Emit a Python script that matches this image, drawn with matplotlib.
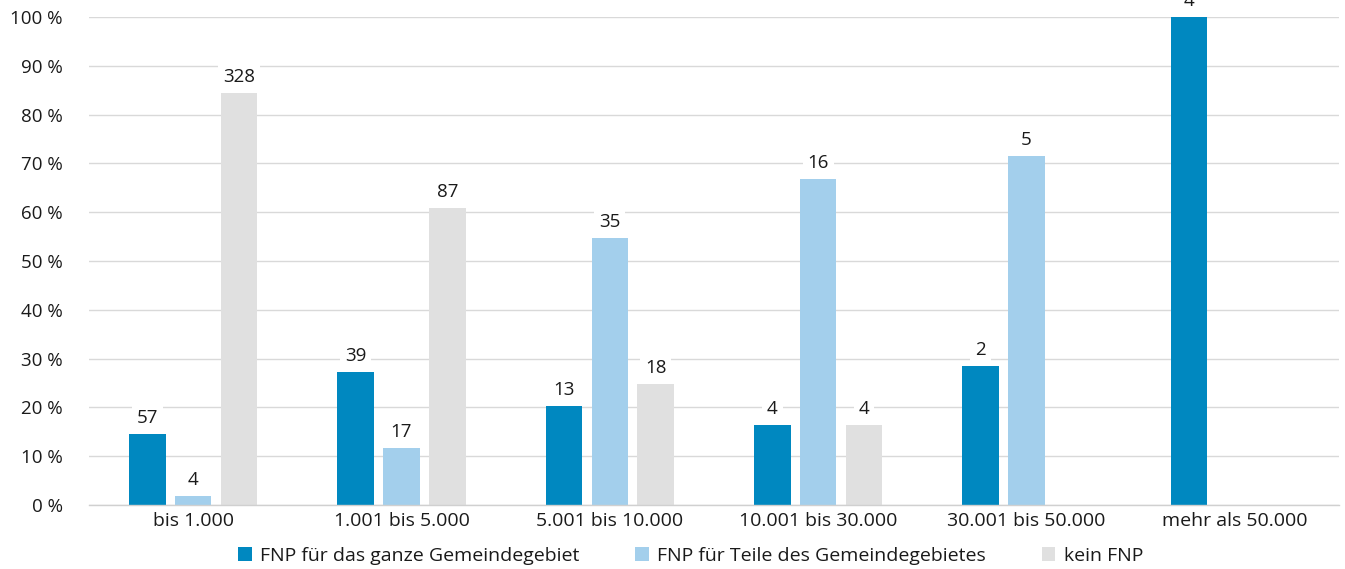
import matplotlib
matplotlib.use("Agg")
import matplotlib.pyplot as plt
import numpy as np

plt.rcParams['font.family'] = ['Open Sans', 'DejaVu Sans']

categories = ["bis 1.000", "1.001 bis 5.000", "5.001 bis 10.000",
              "10.001 bis 30.000", "30.001 bis 50.000", "mehr als 50.000"]
series_names = ["FNP für das ganze Gemeindegebiet",
                "FNP für Teile des Gemeindegebietes", "kein FNP"]
# percentages (bar heights)
pct_ganz = [14.5, 27.3, 20.3, 16.4, 28.5, 100.0]
pct_teile = [1.8, 11.7, 54.7, 66.8, 71.5, None]
pct_kein = [84.4, 60.9, 24.8, 16.4, None, None]
# counts (labels)
n_ganz = [57, 39, 13, 4, 2, 4]
n_teile = [4, 17, 35, 16, 5, None]
n_kein = [328, 87, 18, 4, None, None]

colors = ["#0088c0", "#a3cfec", "#e0e0e0"]

fig = plt.figure(figsize=(13.45, 5.69), dpi=100)
ax = fig.add_axes([89/1345, 1-505/569, 1250/1345, 488/569])

x = np.arange(len(categories))
offsets = [-0.22, 0.0, 0.22]
width = 0.175
for s, (vals, counts) in enumerate([(pct_ganz, n_ganz), (pct_teile, n_teile), (pct_kein, n_kein)]):
    for i, (v, c) in enumerate(zip(vals, counts)):
        if v is None:
            continue
        xi = x[i] + offsets[s]
        ax.bar(xi, v, width=width, color=colors[s], zorder=3,
               label=series_names[s] if i == 0 else None)
        ax.text(xi, v + 1.4, str(c), ha='center', va='bottom', fontsize=13.5,
                color='#1a1a1a', zorder=4,
                bbox=dict(facecolor='white', edgecolor='none', pad=3.5))

ax.set_xlim(-0.5, len(categories) - 0.5)
ax.set_ylim(0, 100)
ax.set_yticks(np.arange(0, 101, 10))
ax.set_yticklabels([f"{v} %" for v in range(0, 101, 10)], fontsize=13.5, color='#1a1a1a')
ax.set_xticks(x)
ax.set_xticklabels(categories, fontsize=14, color='#1a1a1a')
ax.tick_params(axis='both', length=0)
ax.tick_params(axis='y', pad=19)
ax.tick_params(axis='x', pad=5)
ax.yaxis.grid(True, color='#d9d9d9', linewidth=1, zorder=0)
ax.set_axisbelow(True)
for sp in ['left', 'right', 'top']:
    ax.spines[sp].set_visible(False)
ax.spines['bottom'].set_color('#d0d0d0')
ax.spines['bottom'].set_linewidth(1)
ax.spines['bottom'].set_zorder(5)
for lab in ax.get_yticklabels():
    lab.set_horizontalalignment('right')

handles, labels = ax.get_legend_handles_labels()
leg = fig.legend(handles, labels, loc='center', bbox_to_anchor=(0.5135, 1-556/569),
                 ncol=3, frameon=False, fontsize=14, handlelength=0.7, handleheight=0.7,
                 handletextpad=0.45, columnspacing=2.85)
for t in leg.get_texts():
    t.set_color('#1a1a1a')

fig.savefig("out.png", dpi=100)
